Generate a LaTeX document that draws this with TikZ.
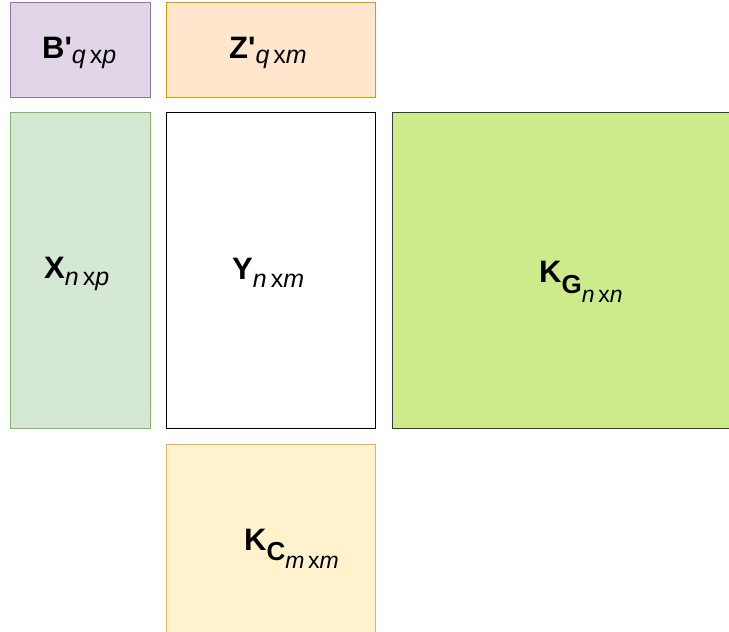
\documentclass[tikz,border=0pt]{standalone}
\usepackage{fontspec}
\setmainfont{Liberation Sans}
\definecolor{bfill}{HTML}{E1D5E7}\definecolor{bdraw}{HTML}{9673A6}
\definecolor{zfill}{HTML}{FFE6CC}\definecolor{zdraw}{HTML}{D79B00}
\definecolor{xfill}{HTML}{D5E8D4}\definecolor{xdraw}{HTML}{82B366}
\definecolor{gfill}{HTML}{CDEB8B}\definecolor{gdraw}{HTML}{36393D}
\definecolor{cfill}{HTML}{FFF2CC}\definecolor{cdraw}{HTML}{D6B656}
\newcommand{\subA}[2]{\raisebox{-#1}{\fontsize{25}{25}\selectfont\mdseries #2}}
\newcommand{\dims}[2]{\textit{#1}\hspace{0.16em}x\textit{#2}}
\begin{document}
\begin{tikzpicture}[x=1pt,y=-1pt,
  mat/.style={draw, line width=1pt, rectangle, inner sep=0pt, anchor=center},
  lbl/.style={anchor=base west, inner sep=0pt, font=\fontsize{31}{31}\selectfont\bfseries}]
\clip (0,0) rectangle (729,632);
\fill[white] (0,0) rectangle (729,632);
\node[mat, fill=bfill, draw=bdraw, minimum width=140pt, minimum height=95pt] (B) at (80,49.5) {};
\node[mat, fill=zfill, draw=zdraw, minimum width=209pt, minimum height=95pt] (Z) at (270.5,49.5) {};
\node[mat, fill=xfill, draw=xdraw, minimum width=140pt, minimum height=316pt] (X) at (80,270) {};
\node[mat, fill=white, draw=black, minimum width=209pt, minimum height=316pt] (Y) at (270.5,270) {};
\node[mat, fill=gfill, draw=gdraw, minimum width=388pt, minimum height=316pt] (KG) at (586,270) {};
\node[mat, fill=cfill, draw=cdraw, minimum width=209pt, minimum height=316pt] (KC) at (270.5,602) {};

\node[lbl] (Bl) at (42,58.5) {B\textquotesingle\subA{5pt}{\dims{q}{p}}};
\node[lbl] (Zl) at (229,58.5) {Z\textquotesingle\subA{5pt}{\dims{q}{m}}};
\node[lbl] (Xl) at (44,278) {X\subA{7pt}{\dims{n}{p}}};
\node[lbl] (Yl) at (232,279) {Y\subA{8pt}{\dims{n}{m}}};
\node[lbl] (KGl) at (539,282) {K\raisebox{-11pt}{\fontsize{26}{26}\selectfont G\raisebox{-9pt}{\fontsize{23}{23}\selectfont\mdseries\dims{n}{n}}}};
\node[lbl] (KCl) at (244,550) {K\raisebox{-10pt}{\fontsize{26}{26}\selectfont C\raisebox{-8pt}{\fontsize{23}{23}\selectfont\mdseries\dims{m}{m}}}};
\end{tikzpicture}
\end{document}
